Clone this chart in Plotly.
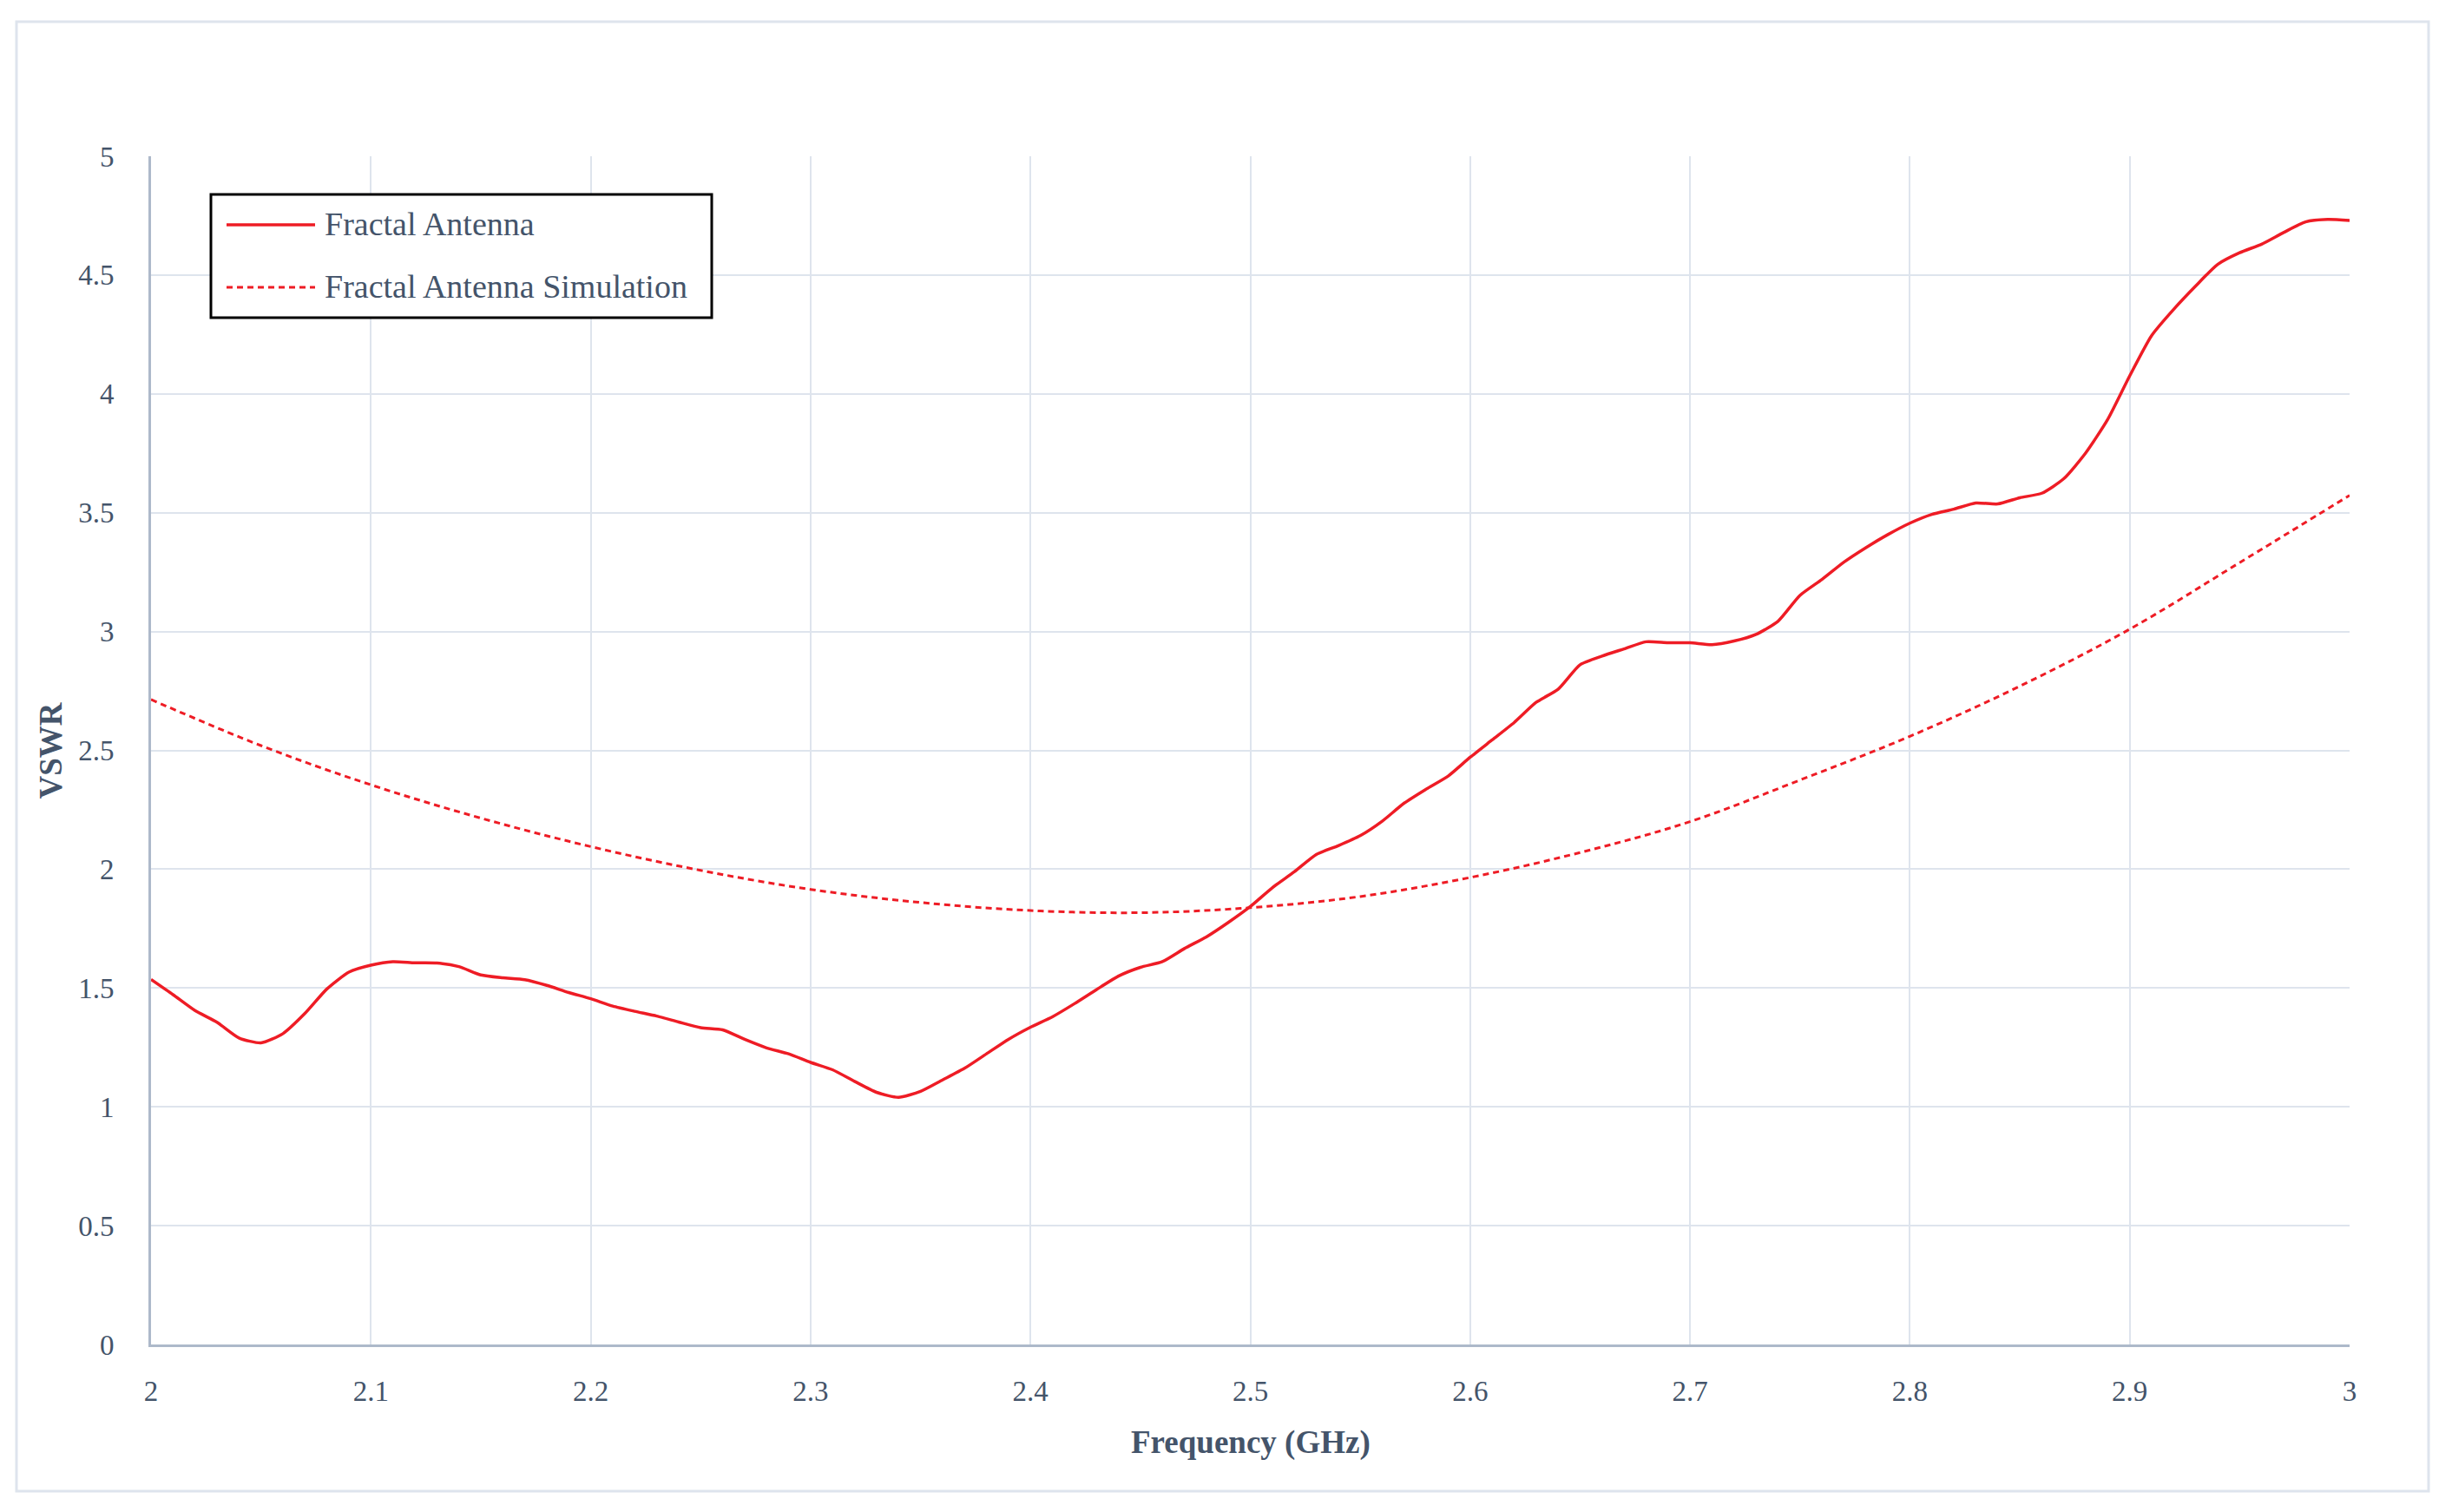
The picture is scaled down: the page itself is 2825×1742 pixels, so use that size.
import plotly.graph_objects as go

# ---------------- data ----------------
freq_meas = [2.00, 2.01, 2.02, 2.03, 2.04, 2.05, 2.06, 2.07, 2.08, 2.09,
             2.10, 2.11, 2.12, 2.13, 2.14, 2.15, 2.16, 2.17, 2.18, 2.19,
             2.20, 2.21, 2.22, 2.23, 2.24, 2.25, 2.26, 2.27, 2.28, 2.29,
             2.30, 2.31, 2.32, 2.33, 2.34, 2.35, 2.36, 2.37, 2.38, 2.39,
             2.40, 2.41, 2.42, 2.43, 2.44, 2.45, 2.46, 2.47, 2.48, 2.49,
             2.50, 2.51, 2.52, 2.53, 2.54, 2.55, 2.56, 2.57, 2.58, 2.59,
             2.60, 2.61, 2.62, 2.63, 2.64, 2.65, 2.66, 2.67, 2.68, 2.69,
             2.70, 2.71, 2.72, 2.73, 2.74, 2.75, 2.76, 2.77, 2.78, 2.79,
             2.80, 2.81, 2.82, 2.83, 2.84, 2.85, 2.86, 2.87, 2.88, 2.89,
             2.90, 2.91, 2.92, 2.93, 2.94, 2.95, 2.96, 2.97, 2.98, 2.99, 3.00]
vswr_meas = [1.536, 1.472, 1.405, 1.356, 1.290, 1.269, 1.308, 1.393, 1.496, 1.567,
             1.596, 1.611, 1.606, 1.605, 1.590, 1.555, 1.543, 1.535, 1.511, 1.481,
             1.455, 1.424, 1.402, 1.382, 1.357, 1.333, 1.324, 1.284, 1.248, 1.223,
             1.187, 1.156, 1.107, 1.061, 1.040, 1.065, 1.113, 1.162, 1.223, 1.284,
             1.335, 1.379, 1.434, 1.493, 1.550, 1.587, 1.611, 1.666, 1.715, 1.776,
             1.843, 1.922, 1.989, 2.062, 2.099, 2.141, 2.202, 2.278, 2.337, 2.392,
             2.471, 2.544, 2.617, 2.702, 2.757, 2.860, 2.897, 2.927, 2.957, 2.953,
             2.953, 2.945, 2.960, 2.988, 3.043, 3.152, 3.219, 3.292, 3.353, 3.408,
             3.456, 3.493, 3.515, 3.541, 3.537, 3.563, 3.582, 3.643, 3.752, 3.893,
             4.076, 4.246, 4.356, 4.454, 4.545, 4.594, 4.630, 4.679, 4.724, 4.734, 4.730]

freq_sim = [2.00, 2.05, 2.10, 2.15, 2.20, 2.25, 2.30, 2.35, 2.40, 2.45, 2.50,
            2.55, 2.60, 2.65, 2.70, 2.75, 2.80, 2.85, 2.90, 2.95, 3.00]
vswr_sim = [2.714, 2.520, 2.355, 2.215, 2.095, 1.995, 1.915, 1.860, 1.826, 1.817, 1.838,
            1.885, 1.965, 2.070, 2.200, 2.375, 2.559, 2.770, 3.010, 3.290, 3.573]

series_names = ["Fractal Antenna", "Fractal Antenna Simulation"]
x_tickvals = [2.0, 2.1, 2.2, 2.3, 2.4, 2.5, 2.6, 2.7, 2.8, 2.9, 3.0]
x_ticktext = ["2", "2.1", "2.2", "2.3", "2.4", "2.5", "2.6", "2.7", "2.8", "2.9", "3"]
y_tickvals = [0, 0.5, 1, 1.5, 2, 2.5, 3, 3.5, 4, 4.5, 5]
y_ticktext = ["0", "0.5", "1", "1.5", "2", "2.5", "3", "3.5", "4", "4.5", "5"]
x_title = "Frequency (GHz)"
y_title = "VSWR"

# ---------------- style ----------------
RED = "#EE1C25"
TEXT = "#44546A"
GRID = "#DEE4ED"
AXIS = "#ADB9CA"
FONT = "Liberation Serif"

OFF = 8  # default page body margin
W, H = 2825 - 2 * OFF, 1742 - 2 * OFF
# target plot area in page pixels: x 174..2707, y 180..1549
L = 174 - OFF
T = 180 - OFF
R = W - (2707 - OFF)
B = H - (1549 - OFF)
PW, PH = W - L - R, H - T - B


def px(xp):
    return (xp - OFF - L) / PW


def py(yp):
    return (H - B - (yp - OFF)) / PH


fig = go.Figure()
fig.add_trace(go.Scatter(x=freq_meas, y=vswr_meas, mode="lines", name=series_names[0],
                         line=dict(color=RED, width=3.5, shape="spline", smoothing=0.6),
                         showlegend=False))
fig.add_trace(go.Scatter(x=freq_sim, y=vswr_sim, mode="lines", name=series_names[1],
                         line=dict(color=RED, width=3, dash="7px,5px", shape="spline", smoothing=1.0),
                         showlegend=False))

shapes = [
    # outer chart border
    dict(type="rect", xref="paper", yref="paper", x0=px(19), x1=px(2798), y0=py(1718), y1=py(25),
         line=dict(color=GRID, width=3), fillcolor="rgba(0,0,0,0)", layer="below"),
    # legend box
    dict(type="rect", xref="paper", yref="paper", x0=px(243), x1=px(820), y0=py(366), y1=py(224),
         line=dict(color="black", width=3), fillcolor="white", layer="above"),
    dict(type="line", xref="paper", yref="paper", x0=px(261), x1=px(363), y0=py(259), y1=py(259),
         line=dict(color=RED, width=3.5)),
    dict(type="line", xref="paper", yref="paper", x0=px(261), x1=px(363), y0=py(331), y1=py(331),
         line=dict(color=RED, width=3, dash="7px,5px")),
]

annotations = [
    dict(text=series_names[0], xref="paper", yref="paper", x=px(372), y=py(258),
         xanchor="left", yanchor="middle", showarrow=False, font=dict(family=FONT, size=38, color=TEXT)),
    dict(text=series_names[1], xref="paper", yref="paper", x=px(372), y=py(330),
         xanchor="left", yanchor="middle", showarrow=False, font=dict(family=FONT, size=38, color=TEXT)),
    dict(text="<b>" + x_title + "</b>", xref="paper", yref="paper", x=0.5, y=py(1662),
         xanchor="center", yanchor="middle", showarrow=False, font=dict(family=FONT, size=37, color=TEXT)),
    dict(text="<b>" + y_title + "</b>", xref="paper", yref="paper", x=px(58), y=0.5, textangle=-90,
         xanchor="center", yanchor="middle", showarrow=False, font=dict(family=FONT, size=37, color=TEXT)),
]

fig.update_layout(
    width=W, height=H,
    margin=dict(l=L, r=R, t=T, b=B, autoexpand=False),
    paper_bgcolor="white", plot_bgcolor="white",
    shapes=shapes, annotations=annotations,
    showlegend=False,
    font=dict(family=FONT, color=TEXT),
)
fig.update_xaxes(range=[2, 3], tickvals=x_tickvals, ticktext=x_ticktext,
                 showgrid=True, gridcolor=GRID, gridwidth=2,
                 showline=True, linecolor=AXIS, linewidth=3, zeroline=False,
                 ticks="", ticklabelstandoff=22,
                 tickfont=dict(family=FONT, size=33, color=TEXT))
fig.update_yaxes(range=[0, 5], tickvals=y_tickvals, ticktext=y_ticktext,
                 showgrid=True, gridcolor=GRID, gridwidth=2,
                 showline=True, linecolor=AXIS, linewidth=3, zeroline=False,
                 ticks="", ticklabelstandoff=33,
                 tickfont=dict(family=FONT, size=33, color=TEXT))

fig.write_html("out.html")
